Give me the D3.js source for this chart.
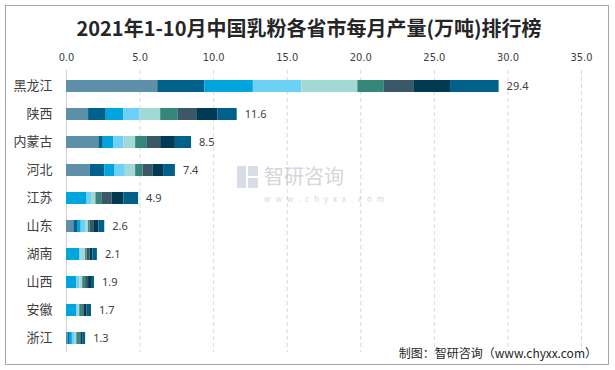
<!DOCTYPE html>
<html>
<head>
<meta charset="utf-8">
<script src="https://cdn.jsdelivr.net/npm/d3@7"></script>
<style>
body { margin: 0; background: #fff; }
text { font-family: "Noto Sans CJK SC", "Noto Sans", sans-serif; }
</style>
</head>
<body>
<div id="chart"></div>
<script>
// provinces, top to bottom
const provinces = ['黑龙江','陕西','内蒙古','河北','江苏','山东','湖南','山西','安徽','浙江'];
const months = ['1-2月','3月','4月','5月','6月','7月','8月','9月','10月'];
const colors = ['#5e91a9','#00628a','#00a5de','#6dd0f6','#a2d8d5','#36867b','#3a5867','#003a52','#00608a'];
// monthly output (10k tonnes), one row per province
const values = [
  [6.2,3.2,3.3,3.3,3.8,1.8,2.0,2.5,3.3],
  [1.5,1.2,1.2,1.1,1.4,1.2,1.3,1.4,1.3],
  [2.2,0.3,0.7,0.7,0.8,0.8,0.9,1.0,1.1],
  [1.6,1.0,0.7,0.7,0.7,0.5,0.7,0.7,0.8],
  [0,0,1.4,0.3,0.3,0.4,0.7,0.8,1.0],
  [0.5,0.3,0.2,0.3,0.2,0.1,0.3,0.3,0.4],
  [0,0,0.9,0.1,0.3,0.1,0.2,0.2,0.3],
  [0,0,0.7,0.2,0.2,0.2,0.2,0.2,0.2],
  [0,0,0.7,0.1,0.1,0.2,0.1,0.2,0.3],
  [0.1,0.1,0.2,0.2,0.1,0.2,0.1,0.1,0.2]
];
const totals = [29.4,11.6,8.5,7.4,4.9,2.6,2.1,1.9,1.7,1.3];
const ticks = [0,5,10,15,20,25,30,35];

const width = 615, height = 370;

const svg = d3.select('#chart')
              .append('svg')
              .attr('width', width)
              .attr('height', height);

// frame
svg.append('rect')
   .attr('x', 5.5).attr('y', 5.5)
   .attr('width', 603).attr('height', 359)
   .attr('fill', 'none')
   .attr('stroke', '#a6a6a6');

svg.append('text')
   .attr('x', 309).attr('y', 36)
   .attr('text-anchor', 'middle')
   .style('font-size', '20px')
   .style('font-weight', 'bold')
   .style('fill', '#262626')
   .text('2021年1-10月中国乳粉各省市每月产量(万吨)排行榜');

let scaleX = d3.scaleLinear().domain([0, 35]).range([66, 581]);
let scaleY = d3.scaleBand().domain(provinces).range([72, 352])
               .paddingInner(0.57).paddingOuter(0.285);

// gridlines
svg.append('g')
   .selectAll('line')
   .data(ticks.slice(1))
   .enter()
   .append('line')
   .attr('x1', d => scaleX(d) + 0.5)
   .attr('x2', d => scaleX(d) + 0.5)
   .attr('y1', 70).attr('y2', 352)
   .attr('stroke', '#d9d9d9')
   .attr('stroke-dasharray', '4,3');

// top axis
let xAxis = d3.axisTop(scaleX).tickValues(ticks).tickFormat(d3.format('.1f')).tickSize(0).tickPadding(0);
let xAxisGroup = svg.append('g')
                    .attr('transform', 'translate(0,61)')
                    .call(xAxis);
xAxisGroup.select('.domain').remove();
xAxisGroup.selectAll('text')
          .style('font-size', '11px')
          .style('fill', '#404040')
          .style('font-family', '"DejaVu Sans Condensed", "Noto Sans", sans-serif');

// left axis line + labels
let yAxis = d3.axisLeft(scaleY).tickSize(0).tickPadding(14);
let yAxisGroup = svg.append('g')
                    .attr('transform', 'translate(' + 66.5 + ',0)')
                    .call(yAxis);
yAxisGroup.select('.domain')
          .attr('d', 'M0,70V352')
          .attr('stroke', '#d0d0d0');
yAxisGroup.selectAll('text')
          .style('font-size', '13px')
          .style('fill', '#404040');

// watermark
const wm = svg.append('g').attr('opacity', 0.55);
wm.append('rect').attr('x', 237).attr('y', 166).attr('width', 9).attr('height', 22).attr('fill', '#b8c3d8');
wm.append('rect').attr('x', 248).attr('y', 166).attr('width', 10).attr('height', 10).attr('fill', '#b8c3d8');
wm.append('rect').attr('x', 248).attr('y', 178).attr('width', 10).attr('height', 10).attr('fill', '#b8c3d8');
wm.append('text').attr('x', 264).attr('y', 184)
  .style('font-size', '20px').style('fill', '#b0b6c0').text('智研咨询');
wm.append('text').attr('x', 264).attr('y', 202)
  .style('font-size', '8px').style('letter-spacing', '5px').style('fill', '#b0b6c0').text('www.chyxx.com');

// stacked bars
let rows = provinces.map((p, i) => {
    let r = {province: p};
    months.forEach((m, j) => { r[m] = values[i][j]; });
    return r;
});
let series = d3.stack().keys(months)(rows);

svg.append('g')
   .selectAll('g')
   .data(series)
   .enter()
   .append('g')
   .attr('fill', (d, i) => colors[i])
   .selectAll('rect')
   .data(d => d)
   .enter()
   .append('rect')
   .attr('x', d => scaleX(d[0]))
   .attr('y', d => scaleY(d.data.province))
   .attr('width', d => scaleX(d[1]) - scaleX(d[0]))
   .attr('height', scaleY.bandwidth());

// totals
svg.append('g')
   .selectAll('text')
   .data(provinces)
   .enter()
   .append('text')
   .attr('x', (d, i) => scaleX(totals[i]) + 8)
   .attr('y', d => scaleY(d) + scaleY.bandwidth() / 2)
   .attr('dy', '0.35em')
   .style('font-size', '11px')
   .style('fill', '#404040')
   .style('font-family', '"Noto Sans", sans-serif')
   .text((d, i) => totals[i].toFixed(1));

svg.append('text')
   .attr('x', 597).attr('y', 358)
   .attr('text-anchor', 'end')
   .style('font-size', '12px')
   .style('fill', '#262626')
   .text('制图：智研咨询（www.chyxx.com）');
</script>
</body>
</html>
